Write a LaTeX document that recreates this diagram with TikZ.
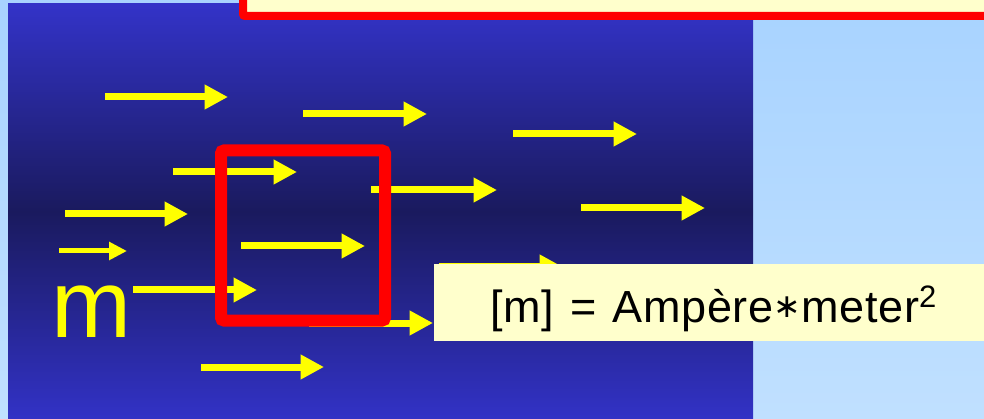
\documentclass[tikz,border=0pt]{standalone}
\usepackage{fontspec}
\setmainfont{Liberation Sans}
\newfontfamily\symfont{DejaVu Sans}
\usetikzlibrary{arrows.meta,positioning}

\definecolor{skytop}{HTML}{A8D3FF}
\definecolor{skybot}{HTML}{C0E0FF}
\definecolor{paneltop}{HTML}{3333C8}
\definecolor{panelmid}{HTML}{1A1A5E}
\definecolor{panelbot}{HTML}{3232C6}
\definecolor{fieldyellow}{HTML}{FFFF00}
\definecolor{notepaper}{HTML}{FFFFCC}
\definecolor{loopred}{HTML}{FF0000}

\begin{document}
\begin{tikzpicture}[
  x=1pt, y=-1pt,
  field/.style={draw=fieldyellow, line width=7pt, -{Triangle[length=23.3pt, width=23.3pt]}},
  smallfield/.style={draw=fieldyellow, line width=5pt, -{Triangle[length=18pt, width=17.4pt]}},
  notebox/.style={fill=notepaper, inner sep=0pt, anchor=north west}
]
  \useasboundingbox (0,0) rectangle (984,419);

  % background and the dark panel
  \shade[top color=skytop, bottom color=skybot] (0,0) rectangle (984,419);
  \shade[top color=paneltop, bottom color=panelbot, middle color=panelmid] (8,4) rectangle (753,419);

  % field arrows
  \foreach \xa/\xb/\yy in {105/228/97, 303/427/114, 513/637/134, 173/297/172,
                           371/497/190, 65/188/214, 581/705/208, 241/365/246,
                           133/257/290, 309/433/323, 439/563/267, 201/324/367}
    \draw[field] (\xa,\yy) -- (\xb,\yy);
  \draw[smallfield] (59,251) -- (127,251);

  % current loop
  \draw[loopred, line width=12pt, rounded corners=3pt] (221,150.5) rectangle (385,320.5);

  % unit box
  \node[notebox, minimum width=550pt, minimum height=77pt] (unitbox) at (434,264) {};
  \node[anchor=base west, inner sep=0pt, font=\fontsize{45}{50}\selectfont\addfontfeature{LetterSpace=1.5}] (unittext) at (490,322)
    {[m]\kern3pt{} = \kern3pt Ampère\raisebox{5pt}{\symfont\fontsize{33}{33}\selectfont ∗}meter\raisebox{15pt}{\fontsize{31}{31}\selectfont 2}};

  % moment label
  \node[anchor=base west, inner sep=0pt, text=fieldyellow, font=\fontsize{96}{110}\selectfont] (mlabel) at (51,337) {m};

  % title box (cut off)
  \draw[loopred, fill=notepaper, line width=8pt, rounded corners=2pt] (243,-30) rectangle (1010,16);
\end{tikzpicture}
\end{document}
